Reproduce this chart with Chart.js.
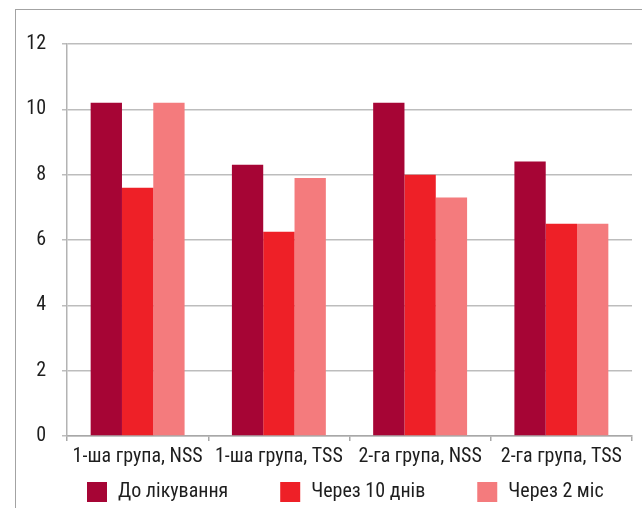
<!DOCTYPE html>
<html>
<head>
<meta charset="utf-8">
<script src="https://cdn.jsdelivr.net/npm/chart.js@4.4.1/dist/chart.umd.min.js"></script>
<style>
  html, body { margin: 0; padding: 0; background: #fff; }
  #wrap { position: relative; width: 642px; height: 508px; }
</style>
</head>
<body>
<div id="wrap"><canvas id="chart" width="642" height="508"></canvas></div>
<script>
// Groups and measurement periods
const categories = ['1-ша група, NSS', '1-ша група, TSS', '2-га група, NSS', '2-га група, TSS'];
const seriesLabels = ['До лікування', 'Через 10 днів', 'Через 2 міс'];
const beforeTreatment = [10.2, 8.3, 10.2, 8.4];
const after10Days = [7.6, 6.25, 8.0, 6.5];
const after2Months = [10.2, 7.9, 7.3, 6.5];
const yTicks = [0, 2, 4, 6, 8, 10, 12];

const colors = ['#A60535', '#EE2027', '#F47B7D'];
const FONT = "'Roboto Condensed', 'DejaVu Sans Condensed', sans-serif";
const TEXT = '#1e1e1e';

// Thin frame around the figure (open to the right and bottom)
const framePlugin = {
  id: 'frame',
  beforeDraw(chart) {
    const ctx = chart.ctx;
    ctx.save();
    ctx.fillStyle = '#fff';
    ctx.fillRect(0, 0, chart.width, chart.height);
    ctx.strokeStyle = '#a3a3a3';
    ctx.lineWidth = 1;
    ctx.strokeRect(15.5, 9.5, chart.width + 20, chart.height + 20);
    ctx.restore();
  }
};

// Single-row legend under the axis labels
const legendRow = {
  id: 'legendRow',
  afterDraw(chart, args, opts) {
    const ctx = chart.ctx;
    ctx.save();
    ctx.font = opts.fontSize + 'px ' + FONT;
    ctx.textBaseline = 'middle';
    ctx.textAlign = 'left';
    let x = chart.chartArea.left + opts.startOffset;
    const cy = opts.centerY;
    chart.data.datasets.forEach(ds => {
      ctx.fillStyle = ds.backgroundColor;
      ctx.fillRect(x, cy - opts.box / 2, opts.box, opts.box);
      ctx.fillStyle = TEXT;
      const tx = x + opts.box + opts.gap;
      ctx.fillText(ds.label, tx, cy);
      x = tx + ctx.measureText(ds.label).width + opts.spacing;
    });
    ctx.restore();
  }
};

new Chart(document.getElementById('chart'), {
  type: 'bar',
  data: {
    labels: categories,
    datasets: [
      { label: seriesLabels[0], data: beforeTreatment, backgroundColor: colors[0] },
      { label: seriesLabels[1], data: after10Days, backgroundColor: colors[1] },
      { label: seriesLabels[2], data: after2Months, backgroundColor: colors[2] }
    ]
  },
  options: {
    responsive: false,
    animation: false,
    devicePixelRatio: 1,
    datasets: { bar: { categoryPercentage: 0.665, barPercentage: 1.0 } },
    layout: { padding: { top: 44, right: 10, left: 0, bottom: 32 } },
    plugins: {
      legend: { display: false },
      tooltip: { enabled: false },
      legendRow: { fontSize: 20, box: 20, gap: 11, spacing: 52, startOffset: 20, centerY: 492 }
    },
    scales: {
      x: {
        offset: true,
        grid: { offset: true, drawOnChartArea: false, drawTicks: true, tickLength: 5, color: '#a8a8a8', lineWidth: 1.5 },
        border: { display: true, color: '#a8a8a8', width: 1.5 },
        ticks: { color: TEXT, font: { family: FONT, size: 20 }, padding: 4, maxRotation: 0, autoSkip: false },
        afterFit(scale) { scale.height = 40; }
      },
      y: {
        min: 0, max: 12,
        afterBuildTicks(scale) { scale.ticks = yTicks.map(v => ({ value: v })); },
        grid: { color: '#bdbdbd', lineWidth: 1.5, drawTicks: true, tickLength: 5 },
        border: { display: true, color: '#b3b3b3', width: 1.5 },
        ticks: { color: TEXT, font: { family: FONT, size: 20 }, padding: 16 },
        afterFit(scale) { scale.width = 67; }
      }
    }
  },
  plugins: [framePlugin, legendRow]
});
</script>
</body>
</html>
